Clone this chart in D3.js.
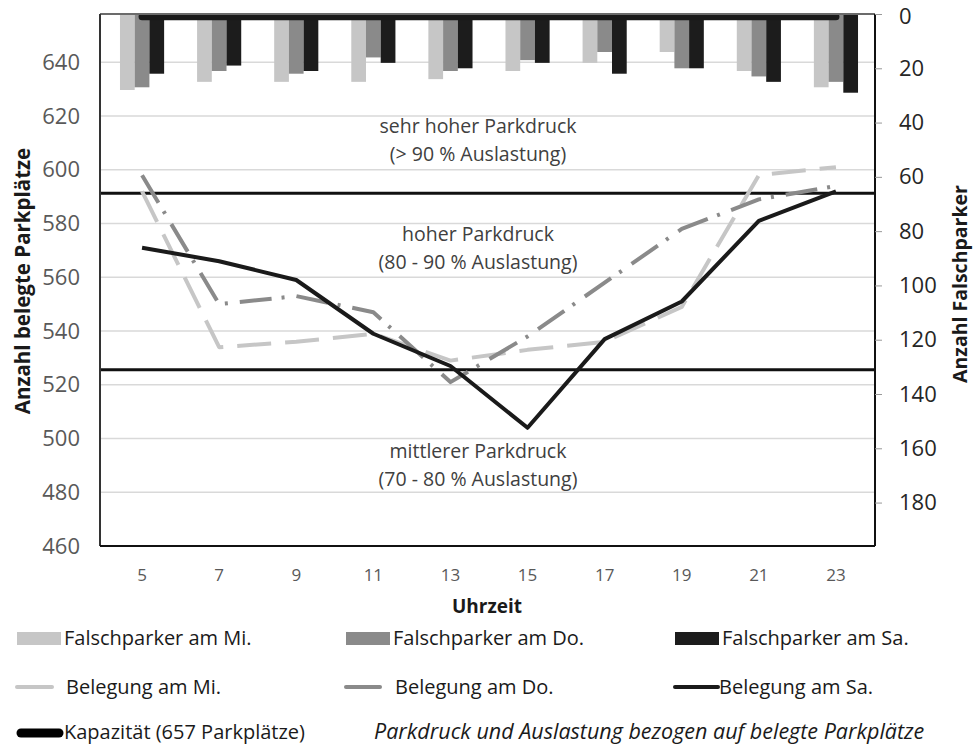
<!DOCTYPE html>
<html><head><meta charset="utf-8">
<script src="https://cdn.jsdelivr.net/npm/d3@7"></script>
<style>
html,body{margin:0;padding:0;background:#fff;}
svg{display:block;font-family:"Open Sans",sans-serif;}
</style></head>
<body><svg id="chart" width="976" height="745"></svg>
<script>
// ---- data ----
const hours = [5, 7, 9, 11, 13, 15, 17, 19, 21, 23];
const falschMi = [28, 25, 25, 25, 24, 21, 18, 14, 21, 27];
const falschDo = [27, 21, 22, 16, 21, 17, 14, 20, 23, 25];
const falschSa = [22, 19, 21, 18, 20, 18, 22, 20, 25, 29];
const belegungMi = [592, 534, 536, 539, 529, 533, 536, 549, 598, 601];
const belegungDo = [598, 550, 553, 547, 521, 538, 558, 578, 589, 594];
const belegungSa = [571, 566, 559, 539, 527, 504, 537, 551, 581, 592];
const kapazitaet = 657;
const thresholds = [0.9 * 657, 0.8 * 657];
const leftTicks = [460, 480, 500, 520, 540, 560, 580, 600, 620, 640];
const rightTicks = [0, 20, 40, 60, 80, 100, 120, 140, 160, 180];
const zoneLabels = [
  ["sehr hoher Parkdruck", "(> 90 % Auslastung)", 613.7],
  ["hoher Parkdruck", "(80 - 90 % Auslastung)", 573.5],
  ["mittlerer Parkdruck", "(70 - 80 % Auslastung)", 492.8]
];
const barSeries = [
  {name: "Falschparker am Mi.", values: falschMi, color: "#c6c6c6"},
  {name: "Falschparker am Do.", values: falschDo, color: "#8a8a8a"},
  {name: "Falschparker am Sa.", values: falschSa, color: "#1c1c1c"}
];
const lineSeries = [
  {name: "Belegung am Mi.", values: belegungMi, color: "#c6c6c6", dash: "34,14"},
  {name: "Belegung am Do.", values: belegungDo, color: "#8a8a8a", dash: "32,10,3,12"},
  {name: "Belegung am Sa.", values: belegungSa, color: "#1a1a1a", dash: null}
];

// ---- layout ----
const svg = d3.select("#chart");
const X0 = 100, X1 = 875, Y0 = 14, Y1 = 546;

const x = d3.scaleBand().domain(hours).range([103.5, 874.5]);
const xi = d3.scaleBand().domain([0, 1, 2]).range([0, x.bandwidth()]).paddingInner(0).paddingOuter(1.12);
const yL = d3.scaleLinear().domain([460, 658]).range([Y1, Y0]);
const yR = d3.scaleLinear().domain([0, 196]).range([Y0, Y1]);
const cx = h => x(h) + x.bandwidth() / 2;

// gridlines
svg.append("g").selectAll("line").data(leftTicks.slice(1)).join("line")
  .attr("x1", X0).attr("x2", X1)
  .attr("y1", d => yL(d)).attr("y2", d => yL(d))
  .attr("stroke", "#d9d9d9").attr("stroke-width", 1.5);

// bars
barSeries.forEach((s, si) => {
  svg.append("g").selectAll("rect").data(s.values).join("rect")
    .attr("x", (d, i) => x(hours[i]) + xi(si))
    .attr("width", xi.bandwidth())
    .attr("y", yR(0))
    .attr("height", d => yR(d) - yR(0))
    .attr("fill", s.color);
});

// capacity line
svg.append("line")
  .attr("x1", cx(hours[0])).attr("x2", cx(hours[hours.length - 1]))
  .attr("y1", yL(kapazitaet)).attr("y2", yL(kapazitaet))
  .attr("stroke", "#1a1a1a").attr("stroke-width", 7).attr("stroke-linecap", "round");

// threshold lines
svg.append("g").selectAll("line").data(thresholds).join("line")
  .attr("x1", X0).attr("x2", X1)
  .attr("y1", d => yL(d)).attr("y2", d => yL(d))
  .attr("stroke", "#111").attr("stroke-width", 3);

// zone labels
const zl = svg.append("g").attr("fill", "#404040").attr("font-size", 19.5).attr("text-anchor", "middle");
zoneLabels.forEach(z => {
  const yy = yL(z[2]);
  zl.append("text").attr("x", 478).attr("y", yy).text(z[0]);
  zl.append("text").attr("x", 478).attr("y", yy + 28).text(z[1]);
});

// lines
const line = d3.line().x((d, i) => cx(hours[i])).y(d => yL(d));
lineSeries.forEach(s => {
  const p = svg.append("path").datum(s.values)
    .attr("d", line).attr("fill", "none")
    .attr("stroke", s.color).attr("stroke-width", 4)
    .attr("stroke-linejoin", "round");
  if (s.dash) p.attr("stroke-dasharray", s.dash);
});

// frame
svg.append("line").attr("x1", X0).attr("x2", X1).attr("y1", Y0).attr("y2", Y0).attr("stroke", "#6b6b6b").attr("stroke-width", 2);
svg.append("line").attr("x1", X0).attr("x2", X0).attr("y1", Y0).attr("y2", Y1).attr("stroke", "#333").attr("stroke-width", 2);
svg.append("line").attr("x1", X1).attr("x2", X1).attr("y1", Y0).attr("y2", Y1).attr("stroke", "#111").attr("stroke-width", 2);
svg.append("line").attr("x1", X0).attr("x2", X1).attr("y1", Y1).attr("y2", Y1).attr("stroke", "#111").attr("stroke-width", 2);

// axes
const axL = svg.append("g").attr("transform", `translate(${X0},0)`)
  .call(d3.axisLeft(yL).tickValues(leftTicks).tickSize(0).tickPadding(20));
axL.select(".domain").remove();
axL.selectAll("text").attr("font-size", 22).attr("fill", "#595959").attr("font-family", "Open Sans");

const axR = svg.append("g").attr("transform", `translate(${X1},0)`)
  .call(d3.axisRight(yR).tickValues(rightTicks).tickSize(7).tickPadding(17));
axR.select(".domain").remove();
axR.selectAll("line").attr("stroke", "#999");
axR.selectAll("text").attr("font-size", 22).attr("fill", "#262626").attr("font-family", "Open Sans")
  .attr("dy", (d) => d === 0 ? "0.42em" : "0.32em");

const axB = svg.append("g").attr("transform", `translate(0,${Y1})`)
  .call(d3.axisBottom(x).tickSize(0).tickPadding(23));
axB.select(".domain").remove();
axB.selectAll("text").attr("font-size", 17).attr("fill", "#595959").attr("font-family", "Open Sans");

// titles
svg.append("text").attr("x", 487).attr("y", 613).attr("text-anchor", "middle")
  .attr("font-size", 19).attr("font-weight", "bold").attr("fill", "#1a1a1a").text("Uhrzeit");
svg.append("text").attr("transform", "translate(30,281) rotate(-90)").attr("text-anchor", "middle")
  .attr("font-size", 20.5).attr("font-weight", "bold").attr("fill", "#1a1a1a").text("Anzahl belegte Parkplätze");
svg.append("text").attr("transform", "translate(967,284) rotate(-90)").attr("text-anchor", "middle")
  .attr("font-size", 19.5).attr("font-weight", "bold").attr("fill", "#1a1a1a").text("Anzahl Falschparker");

// legend
const lg = svg.append("g").attr("font-size", 20).attr("fill", "#1a1a1a");
const colX = [17, 346, 675];
barSeries.forEach((s, i) => {
  lg.append("rect").attr("x", colX[i]).attr("y", 632).attr("width", 44).attr("height", 13).attr("fill", s.color);
  lg.append("text").attr("x", colX[i] + 47).attr("y", 645).text(s.name);
});
const lineLeg = [[17, 52, 66], [346, 380, 395], [675, 718, 719]];
lineSeries.forEach((s, i) => {
  const L = lineLeg[i];
  lg.append("line").attr("x1", L[0]).attr("x2", L[1]).attr("y1", 687).attr("y2", 687)
    .attr("stroke", s.color).attr("stroke-width", 4).attr("stroke-linecap", "round");
  lg.append("text").attr("x", L[2]).attr("y", 694).text(s.name);
});
lg.append("line").attr("x1", 21).attr("x2", 59).attr("y1", 733).attr("y2", 733)
  .attr("stroke", "#000").attr("stroke-width", 9).attr("stroke-linecap", "round");
lg.append("text").attr("x", 64).attr("y", 739).text("Kapazität (657 Parkplätze)");
lg.append("text").attr("x", 374).attr("y", 739).attr("font-style", "italic").attr("font-size", 21.5)
  .text("Parkdruck und Auslastung bezogen auf belegte Parkplätze");
</script></body></html>
